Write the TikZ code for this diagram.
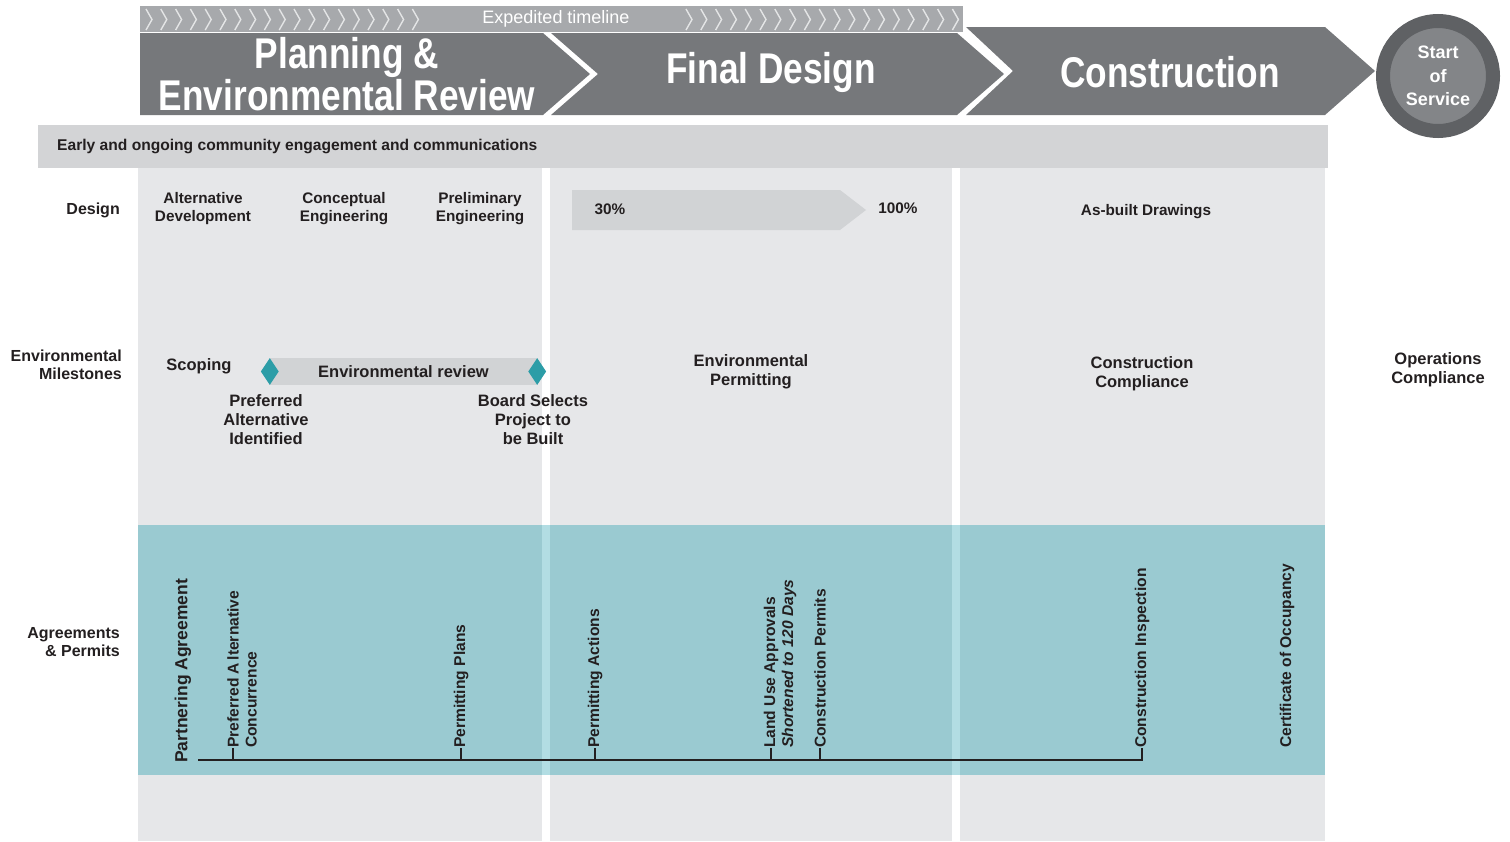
\documentclass[tikz,border=0pt]{standalone}
\usepackage{fontspec}
\setmainfont{Liberation Sans}
\newfontfamily\headfont[FakeStretch=0.82]{Liberation Sans}
\usetikzlibrary{shapes.geometric}
\definecolor{ink}{HTML}{231F20}
\definecolor{bannergray}{HTML}{76787B}
\definecolor{stripgray}{HTML}{A7A9AC}
\definecolor{chevline}{HTML}{E4E5E6}
\definecolor{engbg}{HTML}{D3D4D6}
\definecolor{colbg}{HTML}{E6E7E9}
\definecolor{bargray}{HTML}{D1D3D5}
\definecolor{agrbg}{HTML}{9ACAD1}
\definecolor{agrgap}{HTML}{B2DDE3}
\definecolor{mileteal}{HTML}{2C9DA7}
\definecolor{ringgray}{HTML}{5F6164}
\definecolor{innergray}{HTML}{838588}
\begin{document}
\begin{tikzpicture}[x = 1pt, y = -1pt,
                    banner/.style = {fill = bannergray},
                    chev/.style = {draw = chevline, line width = 1.4pt},
                    phase text/.style = {text = white, align = center, inner sep = 0pt, font = \headfont\bfseries\fontsize{43}{40}\selectfont},
                    txt/.style = {text = ink, align = center, inner sep = 0pt, font = \bfseries\fontsize{15.3}{18}\selectfont},
                    mile/.style = {txt, font = \bfseries\fontsize{16.5}{19}\selectfont},
                    row label/.style = {txt, align = right, anchor = east, font = \bfseries\fontsize{16}{18}\selectfont},
                    permit/.style = {txt, rotate = 90, anchor = west, align = left, font = \bfseries\fontsize{15.6}{18}\selectfont},
                    milestone/.style = {diamond, fill = mileteal, minimum width = 18pt, minimum height = 27pt, inner sep = 0pt},
                    tline/.style = {draw = ink, line width = 1.3pt}]
                    \useasboundingbox (0, 0) rectangle (1510, 841);

                    \fill[colbg] (138, 168) rectangle (542, 841);
                    \fill[colbg] (550, 168) rectangle (952, 841);
                    \fill[colbg] (960, 168) rectangle (1325, 841);
                    \fill[agrbg] (138, 525) rectangle (1325, 775);
                    \fill[agrgap] (542, 525) rectangle (550, 775);
                    \fill[agrgap] (952, 525) rectangle (960, 775);
                    \fill[engbg] (38, 125) rectangle (1328, 168);

                    \fill[stripgray] (140, 6) rectangle (963, 32);
                    \foreach \i in {0, ..., 18} {
                        \draw[chev] ({146 + 14.8 * \i}, 9) -- ++(6, 10.5) -- ++(-6, 10.5);
                        \draw[chev] ({686 + 14.8 * \i}, 9) -- ++(6, 10.5) -- ++(-6, 10.5);
                    }
                    \fill[banner] (140, 33) -- (543, 33) -- (590, 74) -- (543, 115) -- (140, 115) -- cycle;
                    \fill[banner] (551, 33) -- (957, 33) -- (1004, 74) -- (957, 115) -- (551, 115) -- (598, 74) -- cycle;
                    \fill[banner] (966, 27) -- (1325, 27) -- (1375, 71) -- (1325, 115) -- (966, 115) -- (1013, 71) -- cycle;

                    \node at (556, 19) [text = white, inner sep = 0pt, font = \fontsize{18}{20}\selectfont] (expedited) {Expedited timeline};
                    \node at (347, 74) [phase text] (planning) {Planning \&\\Environmental Review};
                    \node at (771, 72) [phase text] (finaldesign) {Final Design};
                    \node at (1170, 72) [phase text] (construction) {Construction};
                    \node at (1438, 76) [circle, draw = ringgray, line width = 14pt, fill = innergray, minimum size = 110pt, inner sep = 0pt, text = white, align = center, font = \bfseries\fontsize{18}{23.5}\selectfont] (service) {Start\\of\\Service};

                    \node at (57, 146) [txt, anchor = west, font = \bfseries\fontsize{15.6}{18}\selectfont] (engage) {Early and ongoing community engagement and communications};

                    \node at (120, 210) [row label] (rowdesign) {Design};
                    \node at (122, 365) [row label] (rowenv) {Environmental\\Milestones};
                    \node at (120, 642) [row label] (rowagree) {Agreements\\\& Permits};

                    \node at (203, 209) [txt] (altdev) {Alternative\\Development};
                    \node at (344, 209) [txt] (concept) {Conceptual\\Engineering};
                    \node at (480, 209) [txt] (prelim) {Preliminary\\Engineering};
                    \fill[bargray] (572, 190) -- (840, 190) -- (866, 210) -- (840, 230) -- (572, 230) -- cycle;
                    \node at (610, 209) [txt] (pct30) {30\%};
                    \node at (898, 208) [txt] (pct100) {100\%};
                    \node at (1146, 212) [txt] (asbuilt) {As-built Drawings};

                    \node at (199, 366) [mile] (scoping) {Scoping};
                    \node at (403.5, 371.5) [mile, fill = bargray, minimum width = 267pt, minimum height = 27pt] (envreview) {Environmental review};
                    \node at (envreview.west) [milestone] (dprefalt) {};
                    \node at (envreview.east) [milestone] (dboard) {};
                    \node at (266, 420) [mile] (prefalt) {Preferred\\Alternative\\Identified};
                    \node at (533, 420) [mile] (board) {Board Selects\\Project to\\be Built};
                    \node at (751, 372) [mile] (envpermit) {Environmental\\Permitting};
                    \node at (1142, 374) [mile] (conscomp) {Construction\\Compliance};
                    \node at (1438, 370) [mile] (opscomp) {Operations\\Compliance};

                    \node at (183, 763) [permit, font = \bfseries\fontsize{17.5}{20}\selectfont] (partner) {Partnering Agreement};
                    \node at (242, 748) [permit] (prefconc) {Preferred A\,lternative\\Concurrence};
                    \node at (461, 748) [permit] (plans) {Permitting Plans};
                    \node at (595, 748) [permit] (actions) {Permitting Actions};
                    \node at (780, 748) [permit] (landuse) {Land Use Approvals\\\textit{Shortened to 120 Days}};
                    \node at (820, 748) [permit] (conspermit) {Construction Permits};
                    \node at (1142, 748) [permit] (inspect) {Construction Inspection};
                    \node at (1287, 748) [permit] (occupancy) {Certificate of Occupancy};

                    \coordinate (tlstart) at (198, 760);
                    \draw[tline] (tlstart) -| (inspect.west);
                    \draw[tline] ([xshift = -9pt]prefconc.west) -- ([xshift = -9pt]prefconc.west |- tlstart);
                    \draw[tline] (plans.west) -- (plans.west |- tlstart);
                    \draw[tline] (actions.west) -- (actions.west |- tlstart);
                    \draw[tline] ([xshift = -9pt]landuse.west) -- ([xshift = -9pt]landuse.west |- tlstart);
                    \draw[tline] (conspermit.west) -- (conspermit.west |- tlstart);
                \end{tikzpicture}
\end{document}
